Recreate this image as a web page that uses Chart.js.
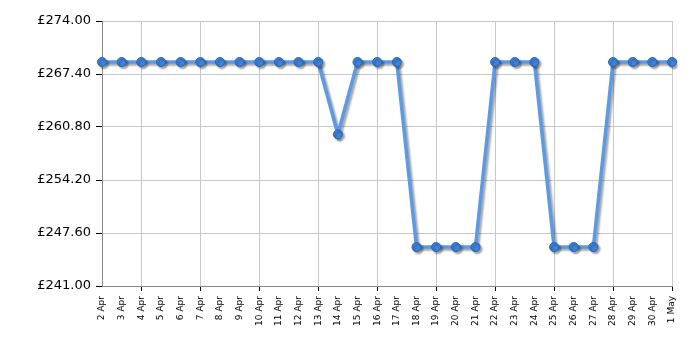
<!DOCTYPE html>
<html>
<head>
<meta charset="utf-8">
<script src="https://cdn.jsdelivr.net/npm/chart.js@4/dist/chart.umd.min.js"></script>
<style>
  html, body { margin: 0; padding: 0; background: #fff; }
  #wrap { width: 700px; height: 350px; }
</style>
</head>
<body>
<div id="wrap"><canvas id="priceChart" width="700" height="350"></canvas></div>
<script>
// dates along the bottom
const dayLabels = ['2 Apr','3 Apr','4 Apr','5 Apr','6 Apr','7 Apr','8 Apr','9 Apr','10 Apr','11 Apr',
  '12 Apr','13 Apr','14 Apr','15 Apr','16 Apr','17 Apr','18 Apr','19 Apr','20 Apr','21 Apr',
  '22 Apr','23 Apr','24 Apr','25 Apr','26 Apr','27 Apr','28 Apr','29 Apr','30 Apr','1 May'];

// price per day
const prices = [268.89,268.89,268.89,268.89,268.89,268.89,268.89,268.89,268.89,268.89,
  268.89,268.89,259.89,268.89,268.89,268.89,245.85,245.85,245.85,245.85,
  268.89,268.89,268.89,245.85,245.85,245.85,268.89,268.89,268.89,268.89];

const yTicks = [241.00, 247.60, 254.20, 260.80, 267.40, 274.00];

// grey drop shadow under the line
const shadowPlugin = {
    id: 'lineShadow',
    beforeDatasetsDraw(chart) {
        let ctx = chart.ctx;
        ctx.save();
        ctx.shadowColor = 'rgba(0,0,0,0.35)';
        ctx.shadowOffsetX = 2;
        ctx.shadowOffsetY = 2;
        ctx.shadowBlur = 2;
    },
    afterDatasetsDraw(chart) {
        chart.ctx.restore();
    }
};

let ctx = document.getElementById('priceChart');
let priceChart = new Chart(ctx, {
    type: 'line',
    data: {
        labels: dayLabels,
        datasets: [{
            data: prices,
            borderColor: '#5a9ae6',
            borderWidth: 3.5,
            pointBackgroundColor: '#3d82dc',
            pointBorderColor: '#2a63b0',
            pointBorderWidth: 1,
            pointRadius: 4.5,
            tension: 0,
            fill: false
        }]
    },
    options: {
        responsive: false,
        animation: false,
        layout: { padding: { top: 21, right: 28, left: 0, bottom: 0 } },
        plugins: { legend: { display: false }, tooltip: { enabled: false } },
        scales: {
            x: {
                offset: false,
                afterFit: function(scale) { scale.height = 64; },
                grid: {
                    color: function(c) { return (c.index % 3 === 2) ? '#c8c8c8' : 'rgba(0,0,0,0)'; },
                    tickColor: function(c) { return (c.index % 3 === 2) ? '#000' : 'rgba(0,0,0,0)'; },
                    tickLength: 5
                },
                border: { color: '#888', width: 1 },
                ticks: {
                    autoSkip: false,
                    minRotation: 90,
                    maxRotation: 90,
                    padding: 5,
                    color: '#000',
                    font: { family: 'DejaVu Sans', size: 9 }
                }
            },
            y: {
                min: 241,
                max: 274,
                afterFit: function(scale) { scale.width = 102; },
                afterBuildTicks: function(scale) {
                    scale.ticks = yTicks.map(function(v) { return { value: v }; });
                },
                grid: { color: '#c8c8c8', tickColor: '#000', tickLength: 6 },
                border: { color: '#888', width: 1 },
                ticks: {
                    color: '#000',
                    padding: 5,
                    font: { family: 'DejaVu Sans', size: 13 },
                    callback: function(v) { return '£' + Number(v).toFixed(2); }
                }
            }
        }
    },
    plugins: [shadowPlugin]
});
</script>
</body>
</html>
